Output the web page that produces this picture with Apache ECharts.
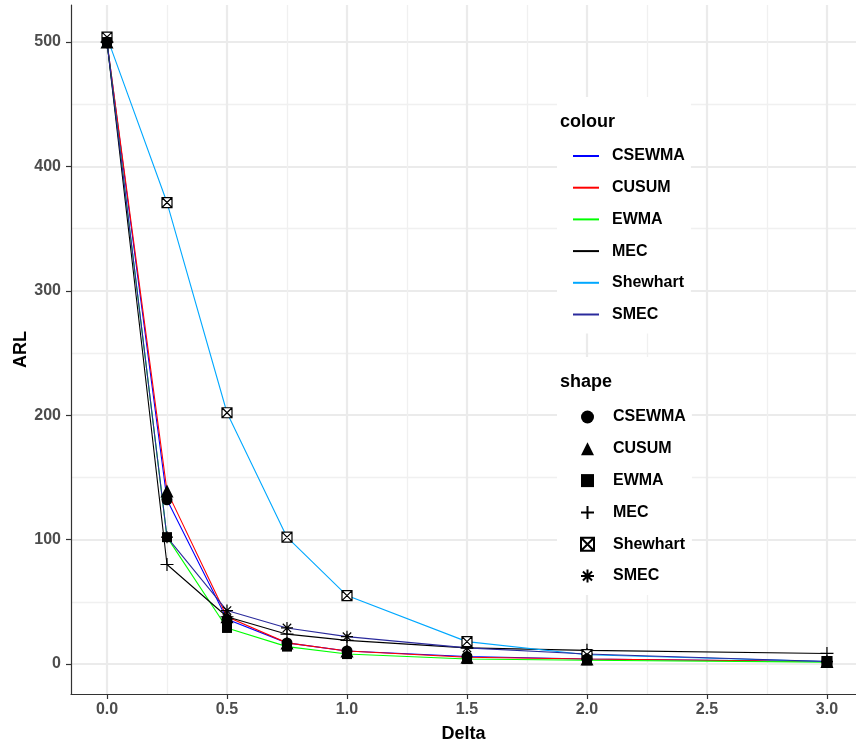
<!DOCTYPE html>
<html>
<head>
<meta charset="utf-8">
<script src="https://cdn.jsdelivr.net/npm/echarts@6/dist/echarts.min.js"></script>
<style>html,body{margin:0;padding:0;background:#fff}#c{width:856px;height:745px}</style>
</head>
<body>
<div id="c"></div>
<script>
// ---- data ----
var delta = [0, 0.25, 0.5, 0.75, 1, 1.5, 2, 3];
var seriesNames = ['CSEWMA', 'CUSUM', 'EWMA', 'MEC', 'Shewhart', 'SMEC'];
var CSEWMA   = [500, 132, 36, 17, 10.5, 6, 4, 2];
var CUSUM    = [500, 139, 38, 17, 10.5, 5.5, 4, 2];
var EWMA     = [500, 102, 29, 14, 8, 4, 3, 1.5];
var MEC      = [500, 80, 38, 24, 19, 13, 11, 8.5];
var Shewhart = [504, 371, 202, 102, 55, 18, 7.5, 2];
var SMEC     = [500, 102, 43, 29, 22, 13, 8, 2];
var xMajorTicks = [0, 0.5, 1, 1.5, 2, 2.5, 3];
var xMinorTicks = [0.25, 0.75, 1.25, 1.75, 2.25, 2.75];
var yMajorTicks = [0, 100, 200, 300, 400, 500];
var yMinorTicks = [50, 150, 250, 350, 450];

var values = {CSEWMA: CSEWMA, CUSUM: CUSUM, EWMA: EWMA, MEC: MEC, Shewhart: Shewhart, SMEC: SMEC};
var lineColors = {CSEWMA: '#0000ff', CUSUM: '#ff0000', EWMA: '#00ff00', MEC: '#000000', Shewhart: '#00a8ff', SMEC: '#2a2a9c'};
var shapes = {
  CSEWMA: {symbol: 'circle', size: 11, fill: '#000'},
  CUSUM: {symbol: 'triangle', size: 13, fill: '#000'},
  EWMA: {symbol: 'rect', size: 10, fill: '#000'},
  MEC: {symbol: 'path://M5,0 L5,10 M0,5 L10,5', size: 13, fill: '#000'},
  Shewhart: {symbol: 'path://M0,0 L10,0 L10,10 L0,10 Z M0,0 L10,10 M10,0 L0,10', size: 10, fill: '#fff'},
  SMEC: {symbol: 'path://M5,0 L5,10 M0,5 L10,5 M1.5,1.5 L8.5,8.5 M8.5,1.5 L1.5,8.5', size: 12, fill: '#000'}
};

var FONT = "'Liberation Sans', Arial, Helvetica, sans-serif";
var X_MIN = -0.15, X_MAX = 3.121, Y_MIN = -24.1, Y_MAX = 529.8;

function pairs(arr) { return delta.map(function (d, i) { return [d, arr[i]]; }); }

var series = [];
seriesNames.forEach(function (n) {
  series.push({
    name: n, type: 'line', data: pairs(values[n]),
    symbol: 'none', showSymbol: false, animation: false,
    lineStyle: {color: lineColors[n], width: 1.1},
    itemStyle: {color: lineColors[n]},
    z: 2
  });
});
// points drawn after lines; SMEC first so it sits underneath
['SMEC', 'MEC', 'Shewhart', 'CSEWMA', 'CUSUM', 'EWMA'].forEach(function (n) {
  var s = shapes[n];
  series.push({
    name: n + ' ', type: 'scatter', data: pairs(values[n]),
    symbol: s.symbol, symbolSize: s.size, symbolKeepAspect: true, animation: false,
    itemStyle: {color: s.fill, borderColor: '#000', borderWidth: (s.symbol.indexOf('path') === 0 ? 1.2 : 0), opacity: 1},
    emphasis: {disabled: true},
    z: 3
  });
});

var axisLineStyle = {color: '#333333', width: 1.2};
var nameStyle = {color: '#000', fontSize: 18, fontWeight: 'bold', fontFamily: FONT};

var option = {
  backgroundColor: '#ffffff',
  animation: false,
  grid: {left: 71, right: 0, top: 5, bottom: 51, containLabel: false, outerBoundsMode: 'none'},
  xAxis: [
    {
      type: 'value', min: X_MIN, max: X_MAX, position: 'bottom',
      name: 'Delta', nameLocation: 'middle', nameGap: 31, nameMoveOverlap: false,
      nameTextStyle: nameStyle,
      axisLine: {show: true, onZero: false, lineStyle: axisLineStyle},
      axisTick: {show: true, length: 5, lineStyle: axisLineStyle, customValues: xMajorTicks},
      axisLabel: {color: '#4d4d4d', fontSize: 16, fontWeight: 'bold', fontFamily: FONT, margin: 8,
        customValues: xMajorTicks, formatter: function (v) { return v.toFixed(1); }},
      splitLine: {show: true, lineStyle: {color: '#ebebeb', width: 2.2}},
      minorSplitLine: {show: false}
    },
    {
      type: 'value', min: X_MIN, max: X_MAX, position: 'top',
      axisLine: {show: false, onZero: false}, axisLabel: {show: false},
      axisTick: {show: false, customValues: xMinorTicks},
      splitLine: {show: true, lineStyle: {color: '#f0f0f0', width: 1.3}}
    }
  ],
  yAxis: [
    {
      type: 'value', min: Y_MIN, max: Y_MAX, position: 'left',
      name: 'ARL', nameLocation: 'middle', nameGap: 41, nameRotate: 90, nameMoveOverlap: false,
      nameTextStyle: nameStyle,
      axisLine: {show: true, onZero: false, lineStyle: axisLineStyle},
      axisTick: {show: true, length: 5, lineStyle: axisLineStyle, customValues: yMajorTicks},
      axisLabel: {color: '#4d4d4d', fontSize: 16, fontWeight: 'bold', fontFamily: FONT, margin: 10,
        customValues: yMajorTicks},
      splitLine: {show: true, lineStyle: {color: '#ebebeb', width: 2.2}}
    },
    {
      type: 'value', min: Y_MIN, max: Y_MAX, position: 'right',
      axisLine: {show: false, onZero: false}, axisLabel: {show: false},
      axisTick: {show: false, customValues: yMinorTicks},
      splitLine: {show: true, lineStyle: {color: '#f0f0f0', width: 1.3}}
    }
  ],
  title: [
    {text: 'colour', left: 560, top: 113, padding: 0, z: 10,
      textStyle: {fontSize: 18, fontWeight: 'bold', color: '#000', fontFamily: FONT}},
    {text: 'shape', left: 560, top: 373, padding: 0, z: 10,
      textStyle: {fontSize: 18, fontWeight: 'bold', color: '#000', fontFamily: FONT}}
  ],
  legend: [
    {
      data: seriesNames.map(function (n) { return {name: n, icon: 'rect'}; }),
      orient: 'vertical', left: 557, top: 97,
      padding: [51, 6, 11, 16],
      backgroundColor: '#ffffff',
      itemWidth: 26, itemHeight: 2, itemGap: 15.7,
      selectedMode: false,
      textStyle: {fontSize: 16, fontWeight: 'bold', color: '#000', fontFamily: FONT, padding: [0, 0, 0, 8], lineHeight: 16}
    },
    {
      data: seriesNames.map(function (n) { return n + ' '; }),
      formatter: function (n) { return n.trim(); },
      orient: 'vertical', left: 557, top: 357,
      padding: [52, 6, 11, 23],
      backgroundColor: '#ffffff',
      itemWidth: 13, itemHeight: 13, itemGap: 15.8,
      symbolKeepAspect: true,
      selectedMode: false,
      textStyle: {fontSize: 16, fontWeight: 'bold', color: '#000', fontFamily: FONT, padding: [0, 0, 0, 14], lineHeight: 16}
    }
  ],
  series: series
};

var chart = echarts.init(document.getElementById('c'), null, {renderer: 'canvas'});
chart.setOption(option);
</script>
</body>
</html>
